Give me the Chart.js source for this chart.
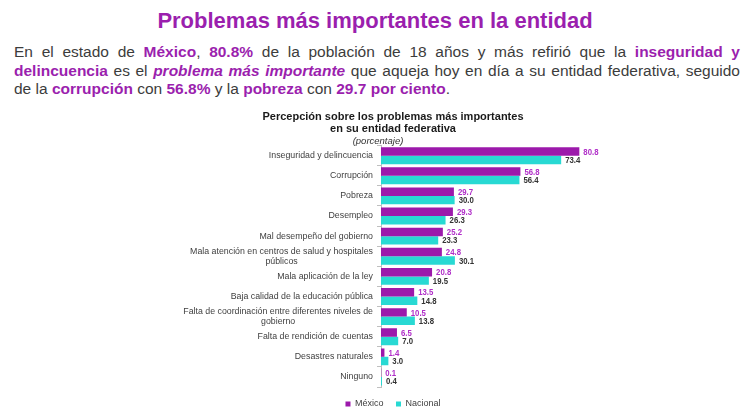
<!DOCTYPE html>
<html><head><meta charset="utf-8">
<script src="https://cdn.jsdelivr.net/npm/chart.js@4.4.0/dist/chart.umd.min.js"></script>
<style>
body{margin:0;width:750px;height:417px;background:#fff;overflow:hidden;position:relative;font-family:"Liberation Sans",Arial,sans-serif;}
#t{position:absolute;left:0;top:7px;width:750px;text-align:center;font-weight:bold;font-size:22px;color:#9b1fae;line-height:28px;}
#p{position:absolute;left:14px;top:43px;width:726px;text-align:justify;font-size:15.5px;line-height:18.7px;color:#3c3c3c;}
#p b{color:#9b1fae;}
#c{position:absolute;left:40px;top:100px;width:710px;height:320px;}
</style></head><body>
<div id="t">Problemas más importantes en la entidad</div>
<div id="p">En el estado de <b>México</b>, <b>80.8%</b> de la población de 18 años y más refirió que la <b>inseguridad y delincuencia</b> es el <b><i>problema más importante</i></b> que aqueja hoy en día a su entidad federativa, seguido de la <b>corrupción</b> con <b>56.8%</b> y la <b>pobreza</b> con <b>29.7 por ciento</b>.</div>
<div id="c"><canvas id="chart" width="710" height="320"></canvas></div>
<script>
const categories = [
  ["Inseguridad y delincuencia"],
  ["Corrupción"],
  ["Pobreza"],
  ["Desempleo"],
  ["Mal desempeño del gobierno"],
  ["Mala atención en centros de salud y hospitales", "públicos"],
  ["Mala aplicación de la ley"],
  ["Baja calidad de la educación pública"],
  ["Falta de coordinación entre diferentes niveles de", "gobierno"],
  ["Falta de rendición de cuentas"],
  ["Desastres naturales"],
  ["Ninguno"]
];
const seriesNames = ["México", "Nacional"];
const mexico = [80.8, 56.8, 29.7, 29.3, 25.2, 24.8, 20.8, 13.5, 10.5, 6.5, 1.4, 0.1];
const nacional = [73.4, 56.4, 30.0, 26.3, 23.3, 30.1, 19.5, 14.8, 13.8, 7.0, 3.0, 0.4];
const chartTitle = ["Percepción sobre los problemas más importantes", "en su entidad federativa"];
const chartSubtitle = "(porcentaje)";

const FONT = '"Liberation Sans", Arial, sans-serif';
const labelColors = ["#b02ec8", "#333333"];

const valueLabels = {
  id: 'valueLabels',
  afterDatasetsDraw(chart) {
    const ctx = chart.ctx;
    chart.data.datasets.forEach((ds, i) => {
      const meta = chart.getDatasetMeta(i);
      meta.data.forEach((bar, j) => {
        ctx.save();
        ctx.translate(bar.x + 4, bar.y + 0.5);
        ctx.scale(0.82, 1);
        ctx.font = 'bold 9.5px ' + FONT;
        ctx.fillStyle = labelColors[i];
        ctx.textAlign = 'left';
        ctx.textBaseline = 'middle';
        ctx.fillText(ds.data[j].toFixed(1), 0, 0);
        ctx.restore();
      });
    });
  }
};

const catLabels = {
  id: 'catLabels',
  afterDraw(chart) {
    const ctx = chart.ctx;
    const scale = chart.scales.y;
    ctx.save();
    ctx.font = '8.8px ' + FONT;
    ctx.fillStyle = '#404040';
    ctx.textAlign = 'center';
    ctx.textBaseline = 'middle';
    const right = scale.right - 8;
    const lh = 10;
    categories.forEach((lines, i) => {
      const y = scale.getPixelForValue(i);
      const w = Math.max(...lines.map(l => ctx.measureText(l).width));
      const cx = right - w / 2;
      lines.forEach((l, k) => {
        ctx.fillText(l, cx, y + (k - (lines.length - 1) / 2) * lh);
      });
    });
    ctx.font = 'italic 9.5px ' + FONT;
    ctx.fillStyle = '#333333';
    ctx.fillText(chartSubtitle, 338, 41);
    ctx.restore();
  }
};

new Chart(document.getElementById('chart'), {
  type: 'bar',
  data: {
    labels: categories,
    datasets: [
      { label: seriesNames[0], data: mexico, backgroundColor: '#9c19ab', borderWidth: 0, barPercentage: 1, categoryPercentage: 0.84 },
      { label: seriesNames[1], data: nacional, backgroundColor: '#28d9d3', borderWidth: 0, barPercentage: 1, categoryPercentage: 0.84 }
    ]
  },
  options: {
    indexAxis: 'y',
    responsive: false,
    animation: false,
    layout: { padding: { left: 0, right: 4, top: 0, bottom: 1.5 } },
    scales: {
      x: { display: false, min: 0, max: 148.7 },
      y: {
        afterFit(scale) { scale.width = 341; },
        border: { display: true, color: '#bfbfbf', width: 1 },
        grid: { display: true, drawOnChartArea: false, drawTicks: true, tickLength: 4, offset: true, color: '#bfbfbf' },
        ticks: { autoSkip: false, color: 'rgba(0,0,0,0)', font: { size: 9, family: FONT } }
      }
    },
    plugins: {
      tooltip: { enabled: false },
      title: {
        display: true, text: chartTitle, color: '#1a1a1a',
        font: { size: 11, weight: 'bold', family: FONT, lineHeight: 1.12 },
        padding: { top: 10.5, bottom: 10.5 }
      },
      legend: {
        position: 'bottom',
        labels: { boxWidth: 5, boxHeight: 5, padding: 12.5, color: '#404040', font: { size: 9, family: FONT } }
      }
    }
  },
  plugins: [valueLabels, catLabels]
});
</script>
</body></html>
